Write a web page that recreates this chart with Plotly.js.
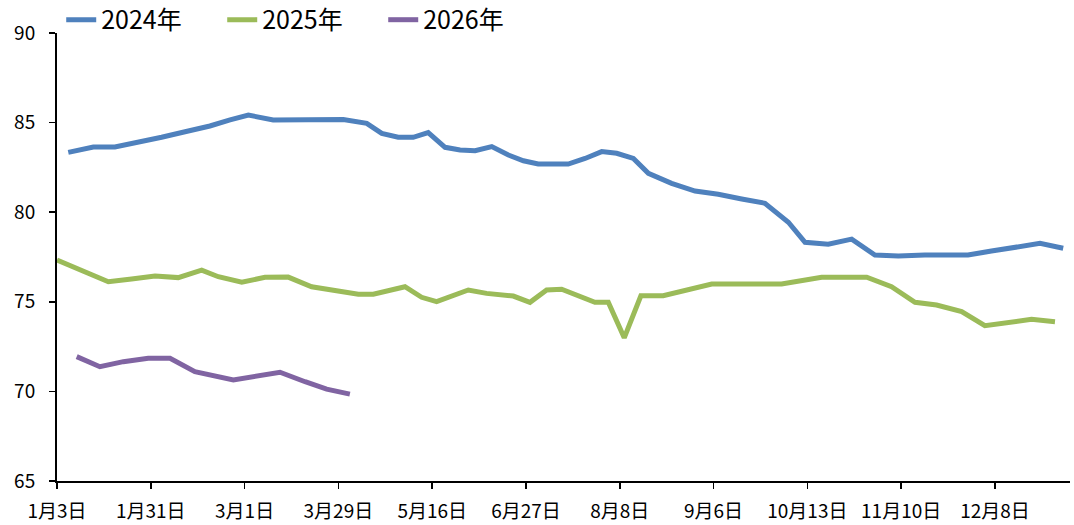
<!DOCTYPE html>
<html>
<head>
<meta charset="utf-8">
<script src="https://cdn.plot.ly/plotly-3.0.1.min.js"></script>
<style>html,body{margin:0;padding:0;background:#fff;}#chart{width:1074px;height:525px;}</style>
</head>
<body>
<div id="chart"></div>
<script>
// Tick labels (category dates) placed every 4 weeks
const tickLabels = ["1月3日","1月31日","3月1日","3月29日","5月16日","6月27日","8月8日","9月6日","10月13日","11月10日","12月8日"];
const tickWeeks = [0,4,8,12,16,20,24,28,32,36,40];

// 2024年 series: week position and value
const week2024 = [0.48,1.55,2.47,3.47,4.46,5.46,6.52,7.38,8.16,9.22,10.22,11.22,12.21,13.21,13.85,14.55,15.19,15.83,16.55,17.19,17.83,18.54,19.25,19.89,20.52,21.15,21.80,22.52,23.23,23.87,24.58,25.22,26.21,27.21,28.20,29.20,30.19,31.19,31.90,32.89,33.89,34.88,35.88,37.01,37.94,38.85,39.85,40.92,41.92,42.91];
const val2024 = [83.34,83.64,83.64,83.90,84.18,84.49,84.81,85.15,85.42,85.15,85.15,85.17,85.17,84.96,84.40,84.18,84.18,84.44,83.62,83.47,83.43,83.66,83.19,82.87,82.69,82.69,82.69,83.00,83.38,83.29,83.00,82.17,81.61,81.18,81.00,80.74,80.50,79.44,78.32,78.21,78.50,77.61,77.56,77.61,77.61,77.61,77.83,78.07,78.26,77.99];

// 2025年 series
const week2025 = [0,2.19,3.18,4.18,5.17,6.17,6.88,7.88,8.87,9.86,10.86,12.85,13.49,14.84,15.55,16.19,17.54,18.32,19.46,20.17,20.88,21.52,22.94,23.51,24.19,24.90,25.85,26.85,27.92,28.91,29.91,30.90,32.61,33.53,34.53,35.59,36.59,37.51,38.58,39.57,40.64,41.56,42.56];
const val2025 = [77.33,76.12,76.27,76.44,76.35,76.77,76.40,76.09,76.37,76.38,75.84,75.42,75.42,75.84,75.25,75.01,75.66,75.47,75.32,74.97,75.66,75.70,74.97,74.97,72.99,75.34,75.34,75.66,75.99,75.99,75.99,75.99,76.37,76.37,76.37,75.84,74.97,74.82,74.45,73.67,73.89,74.02,73.89];

// 2026年 series
const week2026 = [0.84,1.83,2.83,3.89,4.82,5.88,7.52,9.51,10.58,11.5,12.49];
const val2026 = [71.94,71.38,71.66,71.85,71.85,71.10,70.64,71.07,70.54,70.13,69.85];

const seriesNames = ["2024年","2025年","2026年"];
const colors = ["#4F81BD","#9BBB59","#8064A2"];

const FONT = '"Noto Sans CJK SC", "Noto Sans", sans-serif';

const traces = [
  {x: week2024, y: val2024, name: seriesNames[0]},
  {x: week2025, y: val2025, name: seriesNames[1]},
  {x: week2026, y: val2026, name: seriesNames[2]}
].map((t, i) => Object.assign(t, {
  type: 'scatter', mode: 'lines',
  line: {color: colors[i], width: 5, shape: 'linear'},
  hoverinfo: 'skip'
}));

const layout = {
  width: 1074, height: 525,
  margin: {l: 57, r: 4, t: 33, b: 44, autoexpand: false},
  paper_bgcolor: '#ffffff', plot_bgcolor: '#ffffff',
  font: {family: FONT, color: '#000000', size: 19},
  showlegend: true,
  legend: {
    orientation: 'h', xref: 'container', yref: 'container',
    x: 0.057, y: 0.962, xanchor: 'left', yanchor: 'middle',
    font: {family: FONT, size: 25, color: '#000000'},
    entrywidth: 116, entrywidthmode: 'pixels',
    tracegroupgap: 0, bgcolor: 'rgba(0,0,0,0)'
  },
  xaxis: {
    range: [0, 43.2],
    tickmode: 'array', tickvals: tickWeeks, ticktext: tickLabels,
    ticks: 'outside', ticklen: 6, tickwidth: 1.5, tickcolor: '#000',
    showline: true, linecolor: '#000', linewidth: 2,
    showgrid: false, zeroline: false, ticklabelstandoff: 6,
    tickfont: {family: FONT, size: 19, color: '#000'}
  },
  yaxis: {
    range: [65, 90], tickmode: 'array', tickvals: [65,70,75,80,85,90],
    ticks: 'outside', ticklen: 6, tickwidth: 1.5, tickcolor: '#000',
    showline: true, linecolor: '#000', linewidth: 2,
    showgrid: false, zeroline: false, ticklabelstandoff: 10,
    tickfont: {family: FONT, size: 19, color: '#000'}
  }
};

Plotly.newPlot('chart', traces, layout, {staticPlot: true, displayModeBar: false});
</script>
</body>
</html>
